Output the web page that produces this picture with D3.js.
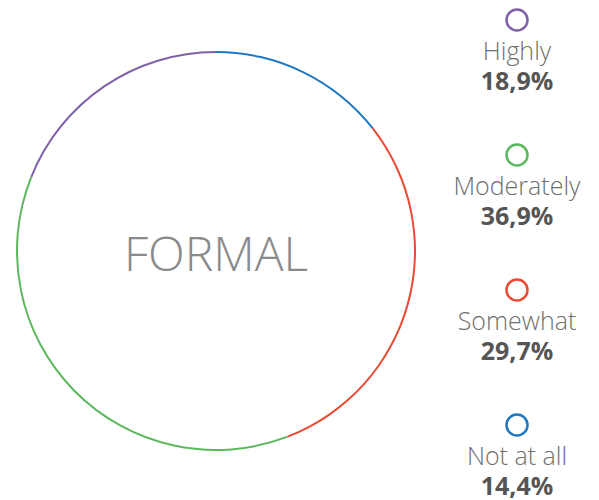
<html>
  <head>
    <script src="https://d3js.org/d3.v7.min.js"></script>
    <style>
      body { margin: 0; background: #fff; }
      .center { font-family: "Open Sans", sans-serif; font-weight: 300; fill: #8a8a8a; }
      .lab { font-family: "Open Sans", sans-serif; font-weight: 300; fill: #6f6f6f; }
      .val { font-family: "Open Sans", sans-serif; font-weight: 700; fill: #555; }
    </style>
  </head>
  <body>
    <svg id="chart" width="599" height="500"></svg>
    <script>
      const svg = d3.select("svg#chart");

      // data, in legend order (top to bottom)
      const categories = ["Highly", "Moderately", "Somewhat", "Not at all"];
      const values = [18.9, 36.9, 29.7, 14.4];
      const labels = ["18,9%", "36,9%", "29,7%", "14,4%"];
      const colors = ["#8061a9", "#5cb85c", "#e84a33", "#1f78c1"];
      const title = "FORMAL";

      const cx = 216, cy = 251, r = 199;

      // ring goes clockwise from top starting with the last category
      const ringOrder = [3, 2, 1, 0];
      const pie = d3.pie().sort(null).value(i => values[i]);
      const arc = d3.arc().innerRadius(r - 1).outerRadius(r + 1);

      const ring = svg.append("g").attr("transform", "translate(" + cx + "," + cy + ")");
      ring.selectAll("path").data(pie(ringOrder))
        .join("path")
          .attr("d", arc)
          .style("fill", d => colors[d.data]);

      svg.append("text")
        .attr("class", "center")
        .attr("x", cx)
        .attr("y", cy + 20)
        .attr("text-anchor", "middle")
        .style("font-size", "48px")
        .text(title);

      // legend
      const legendY = d3.scalePoint().domain(categories).range([20, 425]);
      const lx = 517;
      const items = svg.append("g").selectAll("g").data(categories)
        .join("g")
          .attr("transform", d => "translate(" + lx + "," + legendY(d) + ")");

      items.append("circle")
        .attr("r", 10.5)
        .style("fill", "none")
        .style("stroke", (d, i) => colors[i])
        .style("stroke-width", 2.5);

      items.append("text")
        .attr("class", "lab")
        .attr("y", 40)
        .attr("text-anchor", "middle")
        .style("font-size", "25px")
        .text(d => d);

      items.append("text")
        .attr("class", "val")
        .attr("y", 70)
        .attr("text-anchor", "middle")
        .style("font-size", "25px")
        .text((d, i) => labels[i]);
    </script>
  </body>
</html>
